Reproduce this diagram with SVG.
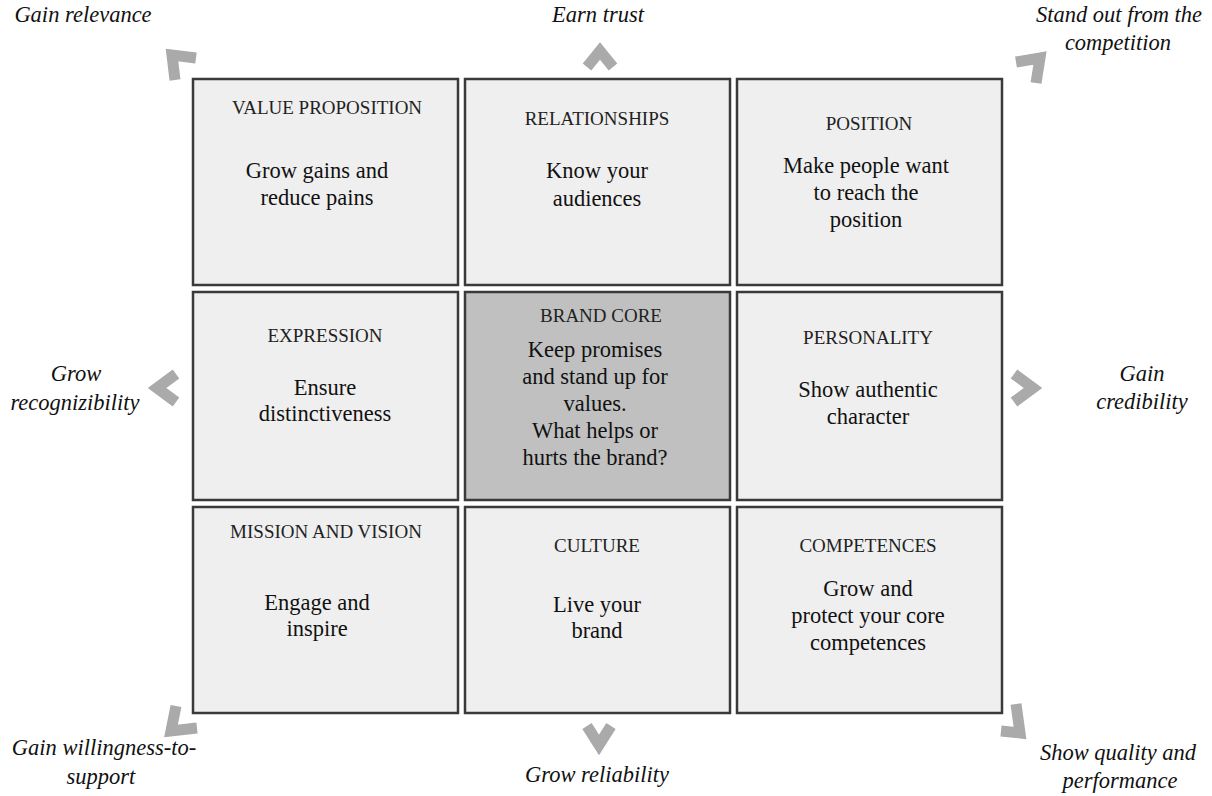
<svg xmlns="http://www.w3.org/2000/svg" width="1212" height="796" viewBox="0 0 1212 796">
<style>
.box{fill:#efefef;stroke:#3a3a3a;stroke-width:2.5}
.core{fill:#c0c0c0;stroke:#3a3a3a;stroke-width:2.5}
.t{font-family:"Liberation Serif","Times New Roman",serif;font-size:19px;fill:#222;text-anchor:middle}
.b{font-family:"Liberation Serif","Times New Roman",serif;font-size:22.5px;fill:#111;text-anchor:middle}
.o{font-family:"Liberation Serif","Times New Roman",serif;font-style:italic;font-size:22.5px;fill:#111;text-anchor:middle}
.ch{fill:none;stroke:#aaaaaa;stroke-width:11;stroke-linejoin:miter;stroke-miterlimit:10}
</style>
<rect width="1212" height="796" fill="#ffffff"/>
<g id="value-proposition">
<rect class="box" x="193" y="79" width="265" height="206"/>
<text class="t" x="327" y="114">VALUE PROPOSITION</text>
<text class="b" x="317" y="178">Grow gains and</text>
<text class="b" x="317" y="205">reduce pains</text>
</g>
<g id="relationships">
<rect class="box" x="465" y="79" width="265" height="206"/>
<text class="t" x="597" y="125">RELATIONSHIPS</text>
<text class="b" x="597" y="178">Know your</text>
<text class="b" x="597" y="206">audiences</text>
</g>
<g id="position">
<rect class="box" x="737" y="79" width="265" height="206"/>
<text class="t" x="869" y="130">POSITION</text>
<text class="b" x="866" y="173">Make people want</text>
<text class="b" x="866" y="200">to reach the</text>
<text class="b" x="866" y="227">position</text>
</g>
<g id="expression">
<rect class="box" x="193" y="292" width="265" height="208"/>
<text class="t" x="325" y="342">EXPRESSION</text>
<text class="b" x="325" y="395">Ensure</text>
<text class="b" x="325" y="421">distinctiveness</text>
</g>
<g id="brand-core">
<rect class="core" x="465" y="292" width="265" height="208"/>
<text class="t" x="601" y="322">BRAND CORE</text>
<text class="b" x="595" y="357">Keep promises</text>
<text class="b" x="595" y="384">and stand up for</text>
<text class="b" x="595" y="411">values.</text>
<text class="b" x="595" y="438">What helps or</text>
<text class="b" x="595" y="465">hurts the brand?</text>
</g>
<g id="personality">
<rect class="box" x="737" y="292" width="265" height="208"/>
<text class="t" x="868" y="344">PERSONALITY</text>
<text class="b" x="868" y="397">Show authentic</text>
<text class="b" x="868" y="424">character</text>
</g>
<g id="mission-vision">
<rect class="box" x="193" y="507" width="265" height="206"/>
<text class="t" x="326" y="538">MISSION AND VISION</text>
<text class="b" x="317" y="610">Engage and</text>
<text class="b" x="317" y="636">inspire</text>
</g>
<g id="culture">
<rect class="box" x="465" y="507" width="265" height="206"/>
<text class="t" x="597" y="552">CULTURE</text>
<text class="b" x="597" y="612">Live your</text>
<text class="b" x="597" y="638">brand</text>
</g>
<g id="competences">
<rect class="box" x="737" y="507" width="265" height="206"/>
<text class="t" x="868" y="552">COMPETENCES</text>
<text class="b" x="868" y="596">Grow and</text>
<text class="b" x="868" y="623">protect your core</text>
<text class="b" x="868" y="650">competences</text>
</g>
<g id="connectors">
<polyline class="ch" points="196,58 172,55 175,80"/>
<polyline class="ch" points="587,67 600,51 613,67"/>
<polyline class="ch" points="1016,62 1040,58 1036,83"/>
<polyline class="ch" points="176,374 157,388 176,402"/>
<polyline class="ch" points="1014,374 1033,388 1014,402"/>
<polyline class="ch" points="176,706 171,731 197,728"/>
<polyline class="ch" points="587,726 599,745 611,726"/>
<polyline class="ch" points="1016,704 1020,733 1001,731"/>
</g>
<g id="labels">
<text class="o" x="83" y="22">Gain relevance</text>
<text class="o" x="598" y="22">Earn trust</text>
<text class="o" x="1119" y="22">Stand out from the</text>
<text class="o" x="1118" y="50">competition</text>
<text class="o" x="76" y="381">Grow</text>
<text class="o" x="75" y="410">recognizibility</text>
<text class="o" x="1142" y="381">Gain</text>
<text class="o" x="1142" y="409">credibility</text>
<text class="o" x="104" y="755">Gain willingness-to-</text>
<text class="o" x="101" y="784">support</text>
<text class="o" x="597" y="782">Grow reliability</text>
<text class="o" x="1118" y="760">Show quality and</text>
<text class="o" x="1120" y="788">performance</text>
</g>
</svg>
